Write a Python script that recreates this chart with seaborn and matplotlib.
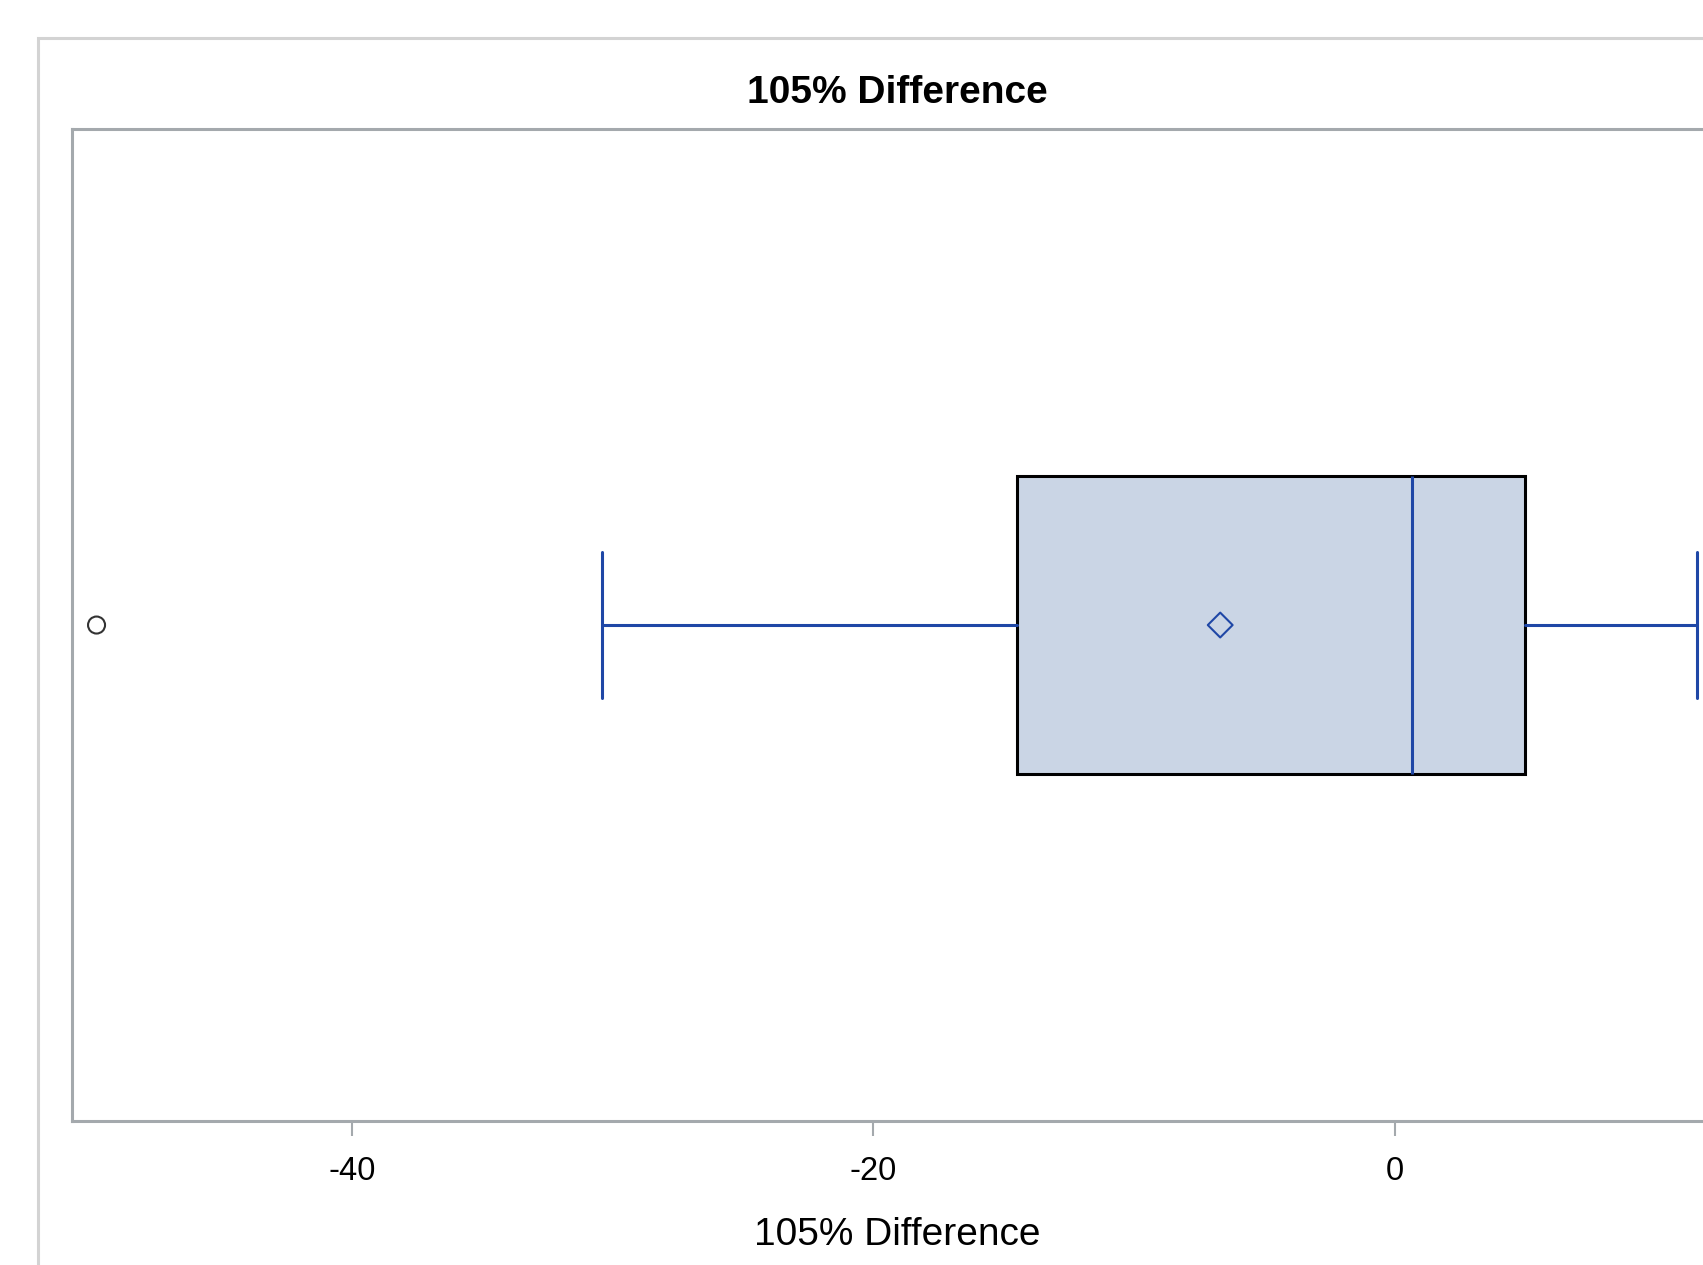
import matplotlib
matplotlib.use("Agg")
import matplotlib.pyplot as plt
from matplotlib.patches import Rectangle
import seaborn as sns
import pandas as pd

# summary statistics
label = "105% Difference"
q1 = -14.5
median = 0.67
q3 = 5.0
whisker_low = -30.4
whisker_high = 11.6
mean_value = -6.7
outliers = [-49.8]
tick_values = [-40, -20, 0]

sns.set_theme(style="white")
plt.rcParams['font.family'] = ['Liberation Sans', 'DejaVu Sans']
plt.rcParams['text.color'] = 'black'
plt.rcParams['axes.labelcolor'] = 'black'

BLUE = '#1f47a6'
FILL = '#cad5e5'
SPINE = '#a4a9ad'

fig = plt.figure(figsize=(17.03, 12.65), dpi=100)
ax = fig.add_axes([0.0423, 0.1138, 0.9689, 0.7842])

stats = [dict(med=median, q1=q1, q3=q3, whislo=whisker_low, whishi=whisker_high,
              fliers=[], mean=mean_value, label=label)]
ax.bxp(stats, positions=[0], widths=0.3, orientation='horizontal', patch_artist=True,
       showmeans=False, capwidths=0.147,
       boxprops=dict(facecolor=FILL, edgecolor='black', linewidth=2.2),
       medianprops=dict(color=BLUE, linewidth=2.2),
       whiskerprops=dict(color=BLUE, linewidth=2.2),
       capprops=dict(color=BLUE, linewidth=2.2))

# outlier and mean markers
flier_df = pd.DataFrame({'value': outliers, 'pos': [0] * len(outliers)})
mean_df = pd.DataFrame({'value': [mean_value], 'pos': [0]})
sns.scatterplot(data=flier_df, x='value', y='pos', marker='o', s=150,
                facecolor='none', edgecolor='#333333', linewidth=1.5, ax=ax, zorder=5)
sns.scatterplot(data=mean_df, x='value', y='pos', marker='D', s=160,
                facecolor='none', edgecolor=BLUE, linewidth=1.5, ax=ax, zorder=5)

ax.set_xlim(-50.74, 12.55)
ax.set_ylim(-0.5, 0.5)
ax.set_xticks(tick_values)
ax.set_xticklabels([str(v) for v in tick_values])
ax.set_yticks([])
ax.set_ylabel('')
ax.tick_params(axis='x', length=11, width=1.5, color=SPINE, labelsize=23.5, pad=14,
               labelcolor='black', bottom=True)
for s in ax.spines.values():
    s.set_color(SPINE)
    s.set_linewidth(2.2)

ax.set_title(label, fontsize=28, fontweight='bold', pad=19, color='black')
ax.set_xlabel(label, fontsize=28, labelpad=22, color='black')

# outer graph frame
fig.patches.append(Rectangle((38 / 1703, -0.2), 1.5, 1.2 - 38 / 1265,
                             transform=fig.transFigure, fill=False,
                             edgecolor='#d3d3d3', linewidth=2.2, clip_on=False))

fig.savefig('out.png', dpi=100)
